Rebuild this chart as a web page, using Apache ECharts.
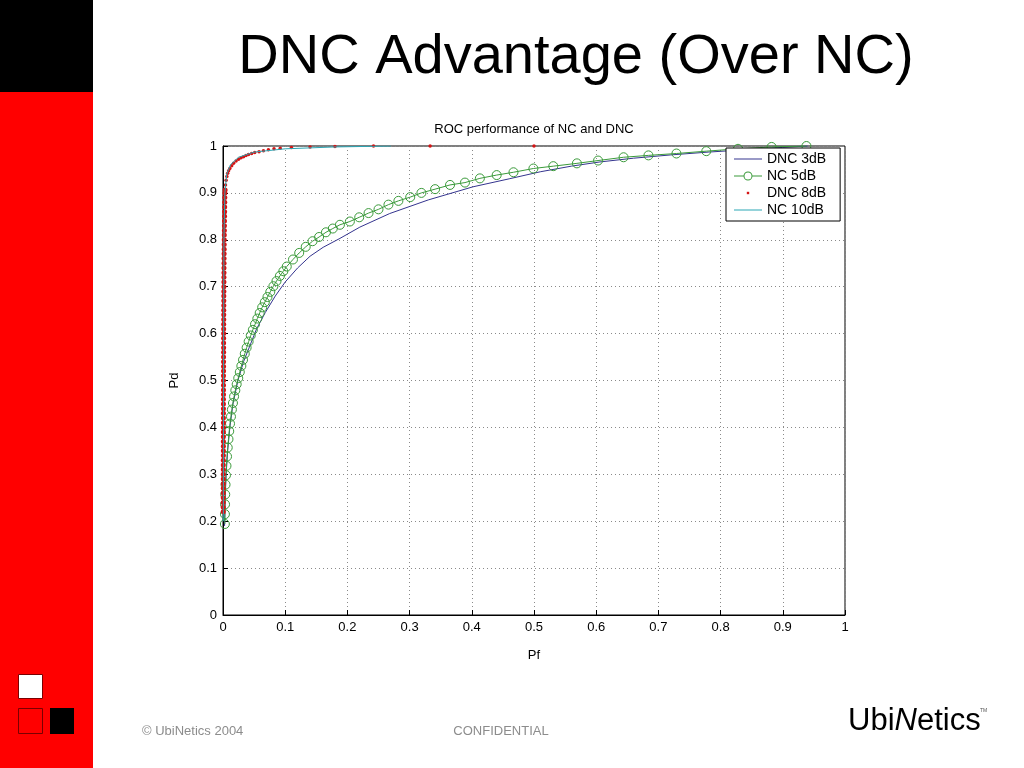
<!DOCTYPE html>
<html>
<head>
<meta charset="utf-8">
<script src="https://cdn.jsdelivr.net/npm/echarts@6/dist/echarts.min.js"></script>
<style>
html,body{margin:0;padding:0;background:#fff;}
#chart{width:1024px;height:768px;}
</style>
</head>
<body>
<div id="chart"></div>
<script>
// ---- data ----
const slideTitle = 'DNC Advantage (Over NC)';
const chartTitle = 'ROC performance of NC and DNC';
const xName = 'Pf';
const yName = 'Pd';
const seriesNames = ['DNC 3dB', 'NC 5dB', 'DNC 8dB', 'NC 10dB'];
const footerLeft = '\u00A9 UbiNetics 2004';
const footerMid = 'CONFIDENTIAL';

// DNC 3dB (line)
const dnc3 = [
  [0.0025,0.19],[0.0035,0.25],[0.005,0.30],[0.0075,0.35],[0.011,0.40],[0.016,0.45],
  [0.024,0.50],[0.033,0.54],[0.045,0.58],[0.054,0.61],[0.068,0.645],[0.084,0.68],
  [0.100,0.71],[0.120,0.74],[0.140,0.765],[0.161,0.784],[0.188,0.803],[0.220,0.827],
  [0.268,0.856],[0.330,0.885],[0.402,0.913],[0.460,0.930],[0.510,0.945],[0.560,0.957],
  [0.606,0.966],[0.660,0.974],[0.720,0.981],[0.780,0.987],[0.840,0.992],[0.900,0.997],
  [0.940,1.000]
];

// NC 5dB (line with circle markers)
const nc5 = [
  [0.0030,0.194],[0.0031,0.215],[0.0033,0.236],[0.0036,0.257],[0.0041,0.278],[0.0048,0.298],
  [0.0056,0.318],[0.0065,0.338],[0.0076,0.357],[0.0088,0.375],[0.0100,0.392],[0.0113,0.408],
  [0.0128,0.423],[0.0143,0.438],[0.0160,0.452],[0.0178,0.466],[0.0198,0.479],[0.0220,0.492],
  [0.0245,0.505],[0.0270,0.518],[0.0295,0.531],[0.0322,0.544],[0.0350,0.557],[0.0380,0.570],
  [0.0412,0.583],[0.0446,0.596],[0.0480,0.608],[0.0515,0.620],[0.0552,0.632],[0.0590,0.644],
  [0.0630,0.656],[0.0672,0.667],[0.0715,0.678],[0.0760,0.689],[0.0810,0.701],[0.0860,0.712],
  [0.0915,0.723],[0.0970,0.733],[0.1025,0.743],[0.1125,0.758],[0.1225,0.772],[0.1330,0.785],
  [0.1440,0.797],[0.1545,0.806],[0.1655,0.816],[0.1765,0.824],[0.1880,0.832],[0.2040,0.839],
  [0.2190,0.848],[0.2340,0.857],[0.2500,0.865],[0.2660,0.875],[0.2820,0.883],[0.3010,0.891],
  [0.3190,0.900],[0.3410,0.908],[0.3650,0.917],[0.3890,0.922],[0.4130,0.931],[0.4400,0.938],
  [0.4670,0.944],[0.4990,0.952],[0.5310,0.957],[0.5690,0.963],[0.6030,0.969],[0.6440,0.976],
  [0.6840,0.980],[0.7290,0.984],[0.7770,0.989],[0.8280,0.994],[0.8820,0.998],[0.9380,1.000]
];

// DNC 8dB (dots)
const dnc8 = [
  [0.0004,0.22],[0.0004,0.23],[0.0004,0.24],[0.0004,0.25],[0.0005,0.26],[0.0005,0.27],
  [0.0005,0.28],[0.0005,0.29],[0.0005,0.30],[0.0005,0.31],[0.0005,0.32],[0.0005,0.33],
  [0.0006,0.34],[0.0006,0.35],[0.0006,0.36],[0.0006,0.37],[0.0006,0.38],[0.0006,0.39],
  [0.0006,0.40],[0.0007,0.41],[0.0007,0.42],[0.0007,0.43],[0.0007,0.44],[0.0007,0.45],
  [0.0007,0.46],[0.0008,0.47],[0.0008,0.48],[0.0008,0.49],[0.0008,0.50],[0.0008,0.51],
  [0.0009,0.52],[0.0009,0.53],[0.0009,0.54],[0.0009,0.55],[0.0010,0.56],[0.0010,0.57],
  [0.0010,0.58],[0.0010,0.59],[0.0011,0.60],[0.0011,0.61],[0.0011,0.62],[0.0012,0.63],
  [0.0012,0.64],[0.0012,0.65],[0.0013,0.66],[0.0013,0.67],[0.0013,0.68],[0.0014,0.69],
  [0.0014,0.70],[0.0015,0.71],[0.0015,0.72],[0.0016,0.73],[0.0016,0.74],[0.0017,0.75],
  [0.0017,0.76],[0.0018,0.77],[0.0019,0.78],[0.0019,0.79],[0.0020,0.80],[0.0021,0.81],
  [0.0022,0.82],[0.0023,0.83],[0.0024,0.84],[0.0025,0.85],[0.0026,0.86],[0.0027,0.87],
  [0.0028,0.88],[0.0029,0.89],[0.0030,0.90],
  [0.0034,0.906],[0.0040,0.917],[0.0050,0.927],[0.0062,0.935],[0.0075,0.942],[0.0090,0.947],
  [0.0110,0.952],[0.0140,0.958],[0.0170,0.963],[0.0210,0.968],[0.0250,0.972],[0.0290,0.975],
  [0.0330,0.977],[0.0370,0.980],[0.0410,0.982],[0.0460,0.984],[0.0510,0.986],[0.0580,0.988],
  [0.0650,0.990],[0.0730,0.992],[0.0820,0.994],[0.0920,0.995],[0.1100,0.997],[0.1400,0.998],
  [0.1800,0.999],[0.2420,1.000],[0.3330,1.000],[0.5000,1.000]
];

// NC 10dB (line)
const nc10 = [
  [0.0005,0.20],[0.0008,0.40],[0.0010,0.60],[0.0015,0.80],[0.0030,0.90],[0.0060,0.94],
  [0.0120,0.96],[0.0250,0.976],[0.0500,0.987],[0.1000,0.994],[0.1800,0.998],[0.2700,1.000]
];

const tickLabels = ['0','0.1','0.2','0.3','0.4','0.5','0.6','0.7','0.8','0.9','1'];

// ---- chart ----
const chart = echarts.init(document.getElementById('chart'), null, {renderer:'canvas'});
const FONT = "'Liberation Sans', Arial, Helvetica, sans-serif";
const colDnc3 = '#34348e', colNc5 = '#3a9a3a', colDnc8 = '#d41414', colNc10 = '#2ba6b4';
const BOX = 'M0,0M28,0M28,10M0,10';
const lineIcon = 'path://' + BOX + 'M0,4.5L28,4.5L28,5.5L0,5.5Z';
const dotIcon = 'path://' + BOX + 'M12.8,3.8L15.2,3.8L15.2,6.2L12.8,6.2Z';
const ringIcon = 'path://' + BOX +
  'M0,4.5L9.6,4.5L9.6,5.5L0,5.5Z' +
  'M18.4,4.5L28,4.5L28,5.5L18.4,5.5Z' +
  'M9.5,5A4.5,4.5,0,1,1,18.5,5A4.5,4.5,0,1,1,9.5,5Z' +
  'M10.5,5A3.5,3.5,0,1,0,17.5,5A3.5,3.5,0,1,0,10.5,5Z';

const option = {
  backgroundColor: '#ffffff',
  animation: false,
  textStyle: {fontFamily: FONT},
  grid: {left: 223, right: 179, top: 146, bottom: 153, show: true,
         borderColor: '#000', borderWidth: 1, backgroundColor: 'transparent'},
  legend: {
    left: 726, top: 148, orient: 'vertical',
    backgroundColor: '#fff', borderColor: '#000', borderWidth: 1,
    padding: [4, 14, 4, 8], itemGap: 3, itemWidth: 28, itemHeight: 10,
    textStyle: {fontFamily: FONT, fontSize: 14, color: '#000'},
    data: [
      {name: seriesNames[0], icon: lineIcon},
      {name: seriesNames[1], icon: ringIcon, itemStyle: {color: colNc5, borderWidth: 0}},
      {name: seriesNames[2], icon: dotIcon},
      {name: seriesNames[3], icon: lineIcon}
    ]
  },
  xAxis: {
    type: 'value', min: 0, max: 1, interval: 0.1,
    name: xName, nameLocation: 'middle', nameGap: 34,
    nameTextStyle: {fontSize: 13, color: '#000', fontFamily: FONT},
    axisLine: {show: true, onZero: false, lineStyle: {color: '#000', width: 1}},
    axisTick: {show: true, inside: true, length: 5, lineStyle: {color: '#000'}},
    axisLabel: {fontSize: 13, color: '#000', margin: 6, fontFamily: FONT,
                formatter: v => tickLabels[Math.round(v * 10)]},
    splitLine: {show: true, lineStyle: {color: '#8a8a8a', type: [1, 3], width: 1}}
  },
  yAxis: {
    type: 'value', min: 0, max: 1, interval: 0.1,
    name: yName, nameLocation: 'middle', nameGap: 42,
    nameTextStyle: {fontSize: 13, color: '#000', fontFamily: FONT},
    axisLine: {show: true, onZero: false, lineStyle: {color: '#000', width: 1}},
    axisTick: {show: true, inside: true, length: 5, lineStyle: {color: '#000'}},
    axisLabel: {fontSize: 13, color: '#000', margin: 6, fontFamily: FONT,
                formatter: v => tickLabels[Math.round(v * 10)]},
    splitLine: {show: true, lineStyle: {color: '#8a8a8a', type: [1, 3], width: 1}}
  },
  series: [
    {name: seriesNames[0], type: 'line', data: dnc3, symbol: 'none', showSymbol: false,
     lineStyle: {color: colDnc3, width: 1}, itemStyle: {color: colDnc3}, z: 2},
    {name: seriesNames[1], type: 'line', data: nc5, symbol: 'circle', symbolSize: 9, showSymbol: true,
     lineStyle: {color: colNc5, width: 1},
     itemStyle: {color: 'rgba(255,255,255,0)', borderColor: colNc5, borderWidth: 1},
     z: 3},
    {name: seriesNames[2], type: 'scatter', data: dnc8, symbol: 'circle',
     symbolSize: v => (v[0] < 0.0035 ? 5 : 3.5),
     itemStyle: {color: colDnc8, opacity: 1}, z: 4},
    {name: seriesNames[3], type: 'line', data: nc10, symbol: 'none', showSymbol: false,
     lineStyle: {color: colNc10, width: 1}, itemStyle: {color: colNc10}, z: 5}
  ],
  graphic: [
    {type: 'rect', left: 0, top: 0, shape: {width: 93, height: 768}, style: {fill: '#ff0000'}, z: 100},
    {type: 'rect', left: 0, top: 0, shape: {width: 93, height: 92}, style: {fill: '#000000'}, z: 101},
    {type: 'rect', x: 18.5, y: 674.5, shape: {width: 24, height: 24}, style: {fill: '#ffffff', stroke: '#7a0000', lineWidth: 1}, z: 101},
    {type: 'rect', x: 18.5, y: 708.5, shape: {width: 24, height: 25}, style: {fill: '#ff0000', stroke: '#7a0000', lineWidth: 1}, z: 101},
    {type: 'rect', x: 50, y: 708, shape: {width: 24, height: 26}, style: {fill: '#000000'}, z: 101},
    {type: 'text', x: 576, y: 58, z: 101,
     style: {text: slideTitle, font: "56px " + FONT, fill: '#000', align: 'center', verticalAlign: 'middle'}},
    {type: 'text', x: 534, y: 129, z: 101,
     style: {text: chartTitle, font: "13px " + FONT, fill: '#000', align: 'center', verticalAlign: 'middle'}},
    {type: 'text', x: 142, y: 731, z: 101,
     style: {text: footerLeft, font: "13px " + FONT, fill: '#8c8c8c', align: 'left', verticalAlign: 'middle'}},
    {type: 'text', x: 501, y: 731, z: 101,
     style: {text: footerMid, font: "13px " + FONT, fill: '#8c8c8c', align: 'center', verticalAlign: 'middle'}},
    {type: 'text', x: 848, y: 721, z: 101,
     style: {text: '{a|Ubi}{n|N}{a|etics}', align: 'left', verticalAlign: 'middle',
       rich: {
         a: {fontFamily: FONT, fontSize: 31, color: '#111'},
         n: {fontFamily: FONT, fontSize: 31, fontStyle: 'italic', color: '#e01010'}
       }}},
    {type: 'text', x: 980, y: 711, z: 101,
     style: {text: 'TM', font: "5px " + FONT, fill: '#555', align: 'left', verticalAlign: 'middle'}}
  ]
};
chart.setOption(option);
</script>
</body>
</html>
